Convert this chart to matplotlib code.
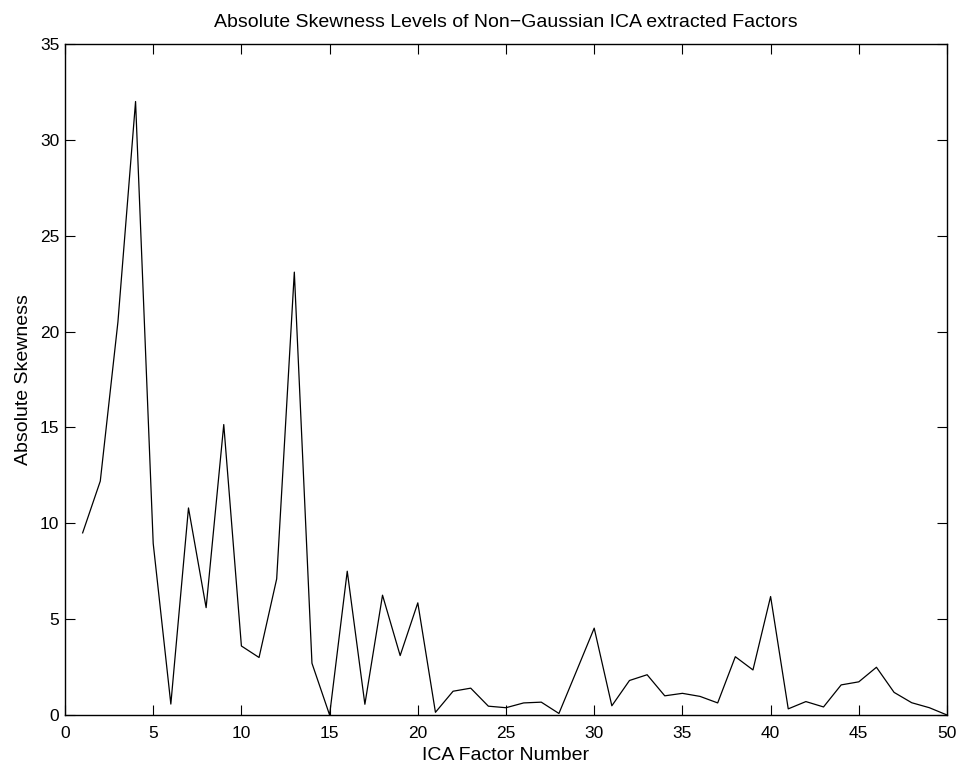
import numpy as np
import matplotlib
matplotlib.use('Agg')
import matplotlib.pyplot as plt

# absolute skewness of each extracted ICA factor
factor_no = np.arange(1, 51)
abs_skew = [9.5, 12.2, 20.5, 32.0, 8.95, 0.57, 10.8, 5.6, 15.15, 3.6,
            3.0, 7.1, 23.1, 2.7, 0.0, 7.5, 0.56, 6.25, 3.1, 5.85,
            0.14, 1.24, 1.4, 0.46, 0.38, 0.63, 0.67, 0.08, 2.3, 4.53,
            0.48, 1.8, 2.1, 1.0, 1.13, 0.97, 0.63, 3.04, 2.35, 6.18,
            0.32, 0.7, 0.42, 1.57, 1.73, 2.49, 1.18, 0.64, 0.38, 0.0]

plt.rcParams['font.family'] = ['Liberation Sans', 'DejaVu Sans']

fig = plt.figure(figsize=(9.63, 7.69), dpi=100)
ax = fig.add_axes([65 / 963, 1 - 715 / 769, 882 / 963, 671 / 769])

ax.plot(factor_no, abs_skew, color='black', linewidth=0.9)

ax.set_xlim(0, 50)
ax.set_ylim(0, 35)
ax.set_xticks(np.arange(0, 51, 5))
ax.set_yticks(np.arange(0, 36, 5))
ax.tick_params(direction='in', length=7, width=0.8, top=True, right=True,
               labelsize=12.5)
ax.tick_params(axis='x', pad=8)
ax.tick_params(axis='y', pad=4)
for s in ax.spines.values():
    s.set_linewidth(1.0)

ax.set_xlabel('ICA Factor Number', fontsize=14, labelpad=4)
ax.set_ylabel('Absolute Skewness', fontsize=14, labelpad=6)
ax.set_title('Absolute Skewness Levels of Non\u2212Gaussian ICA extracted Factors',
             fontsize=14, family=['Liberation Sans Narrow', 'Liberation Sans'], pad=12)

plt.savefig('out.png', dpi=100)
